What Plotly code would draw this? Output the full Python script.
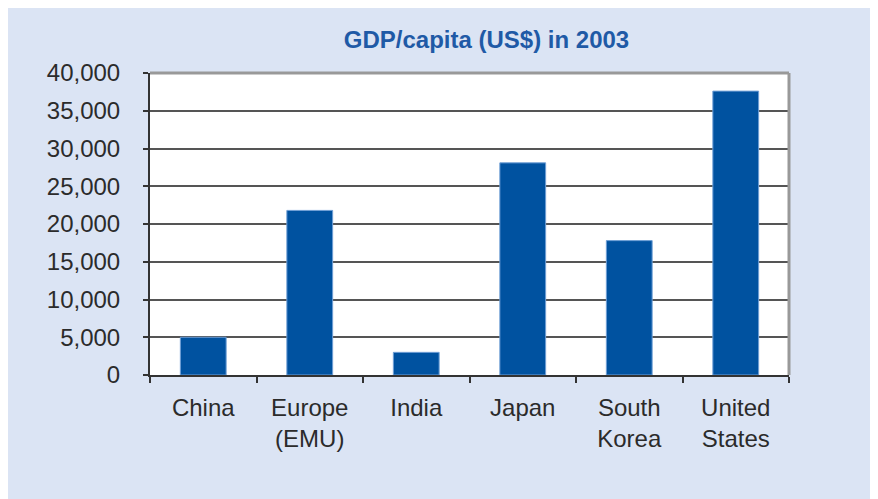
import plotly.graph_objects as go

categories = ["China", "Europe<br>(EMU)", "India", "Japan", "South<br>Korea", "United<br>States"]
gdp_per_capita = [5000, 21800, 3000, 28100, 17800, 37600]
y_ticks = [0, 5000, 10000, 15000, 20000, 25000, 30000, 35000, 40000]
y_tick_labels = ["0", "5,000", "10,000", "15,000", "20,000", "25,000", "30,000", "35,000", "40,000"]

W, H = 878, 499
L, R, T, B = 142, 97, 65, 132

font = "Liberation Sans, Arial, sans-serif"
bg = "#dbe4f4"

fig = go.Figure(go.Bar(
    x=categories, y=gdp_per_capita,
    marker=dict(color="#0052a0", line=dict(color="#6f9fd6", width=1)),
    width=0.43,
))

fig.update_layout(
    width=W, height=H,
    margin=dict(l=L, r=R, t=T, b=B),
    paper_bgcolor=bg, plot_bgcolor="white",
    showlegend=False,
    font=dict(family=font, size=24, color="#2b2b2b"),
    title=dict(text="<b>GDP/capita (US$) in 2003</b>", x=478.5 / W, xanchor="center",
               y=1 - 32 / H, yanchor="middle", xref="container", yref="container",
               font=dict(family=font, size=24, color="#1f5aa6")),
    xaxis=dict(showgrid=False, showline=True, linecolor="#333333", linewidth=2,
               ticks="outside", tickson="boundaries", ticklen=6, tickwidth=1.5,
               tickcolor="#333333", ticklabelstandoff=10,
               tickfont=dict(size=24, color="#2b2b2b")),
    yaxis=dict(range=[0, 40000], tickvals=y_ticks, ticktext=y_tick_labels,
               showgrid=True, gridcolor="#555555", gridwidth=1.5,
               showline=True, linecolor="#333333", linewidth=2,
               ticks="outside", ticklen=5, tickwidth=1.5, tickcolor="#333333",
               ticklabelstandoff=18, zeroline=False,
               tickfont=dict(size=24, color="#2b2b2b")),
    shapes=[
        dict(type="line", xref="paper", yref="paper", x0=0, x1=1, y0=1, y1=1,
             line=dict(color="#999999", width=3)),
        dict(type="line", xref="paper", yref="paper", x0=1, x1=1, y0=0, y1=1,
             line=dict(color="#999999", width=3)),
    ],
)

fig.write_html("out.html")
